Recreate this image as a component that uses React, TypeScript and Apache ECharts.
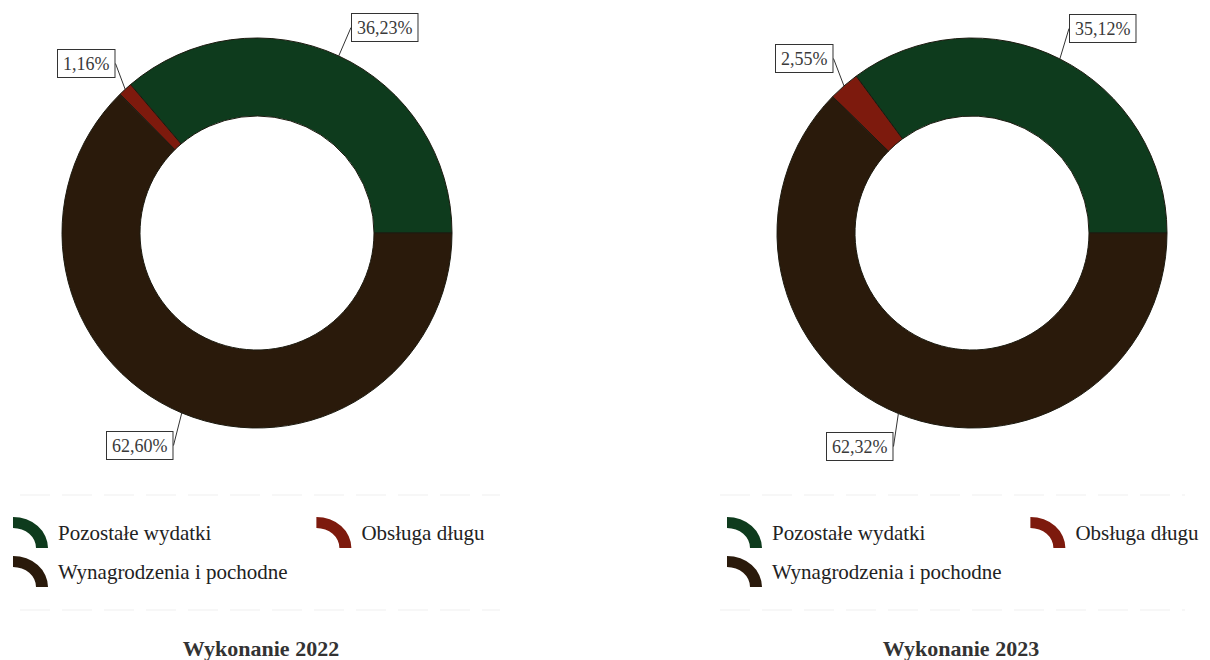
import React, { useEffect, useRef } from "react";
import * as echarts from "echarts";

const categories = ["Pozostałe wydatki", "Obsługa długu", "Wynagrodzenia i pochodne"];
const values2022 = [36.23, 1.16, 62.6];
const values2023 = [35.12, 2.55, 62.32];
const titles = ["Wykonanie 2022", "Wykonanie 2023"];

const colors = ["#0e3b1d", "#7d1a0d", "#2a1a0b"];
const labelBoxes = [
  [[352, 14], [58, 50], [107, 432]],
  [[1070, 15], [776, 45], [827, 433]],
];
const centers = [[257, 233], [972, 233]];
const legendLefts = [13, 727];
const titleXs = [261, 961];

const arcIcon = "path://M0,0 A35,31 0 0 1 35,31 L23,31 A23,20 0 0 0 0,11 Z";
const serif = "'Liberation Serif', 'Times New Roman', serif";

const fmt = (v: number) => v.toFixed(2).replace(".", ",") + "%";

export default function App() {
  const ref = useRef<HTMLDivElement>(null);
  useEffect(() => {
    if (!ref.current) return;
    const chart = echarts.init(ref.current, undefined, { renderer: "svg" });
    const allValues = [values2022, values2023];
    const series = allValues.map((vals, si) => ({
      type: "pie",
      center: centers[si],
      radius: [117, 195],
      startAngle: 0,
      clockwise: false,
      avoidLabelOverlap: false,
      emphasis: { disabled: true },
      itemStyle: { borderColor: "#1c1a10", borderWidth: 1 },
      label: {
        show: true,
        position: "outside",
        formatter: (p: any) => fmt(p.value),
        fontFamily: serif,
        fontSize: 18,
        color: "#3a3a3a",
        backgroundColor: "#fff",
        borderColor: "#333",
        borderWidth: 1,
        padding: [4, 5, 3, 5],
        lineHeight: 20,
      },
      labelLine: { show: true, length: 8, length2: 0, lineStyle: { color: "#333", width: 1 } },
      labelLayout: (params: any) => {
        const b = labelBoxes[si][params.dataIndex];
        return { x: b[0], y: b[1], align: "left", verticalAlign: "top" };
      },
      data: categories.map((name, i) => ({ name, value: vals[i], itemStyle: { color: colors[i] } })),
    }));

    const legendText = { fontFamily: serif, fontSize: 21, color: "#222", padding: [0, 0, 0, 5] };
    const legends: any[] = [];
    legendLefts.forEach((lx) => {
      legends.push({
        data: [categories[0], categories[1]],
        left: lx,
        top: 517,
        padding: 0,
        orient: "horizontal",
        itemGap: 105,
        itemWidth: 35,
        itemHeight: 31,
        icon: arcIcon,
        itemStyle: { borderWidth: 0 },
        selectedMode: false,
        textStyle: legendText,
      });
      legends.push({
        data: [categories[2]],
        left: lx,
        top: 556,
        padding: 0,
        orient: "horizontal",
        itemWidth: 35,
        itemHeight: 31,
        icon: arcIcon,
        itemStyle: { borderWidth: 0 },
        selectedMode: false,
        textStyle: legendText,
      });
    });

    const graphics: any[] = [];
    titles.forEach((t, i) => {
      graphics.push({
        type: "text",
        x: titleXs[i],
        y: 648,
        style: {
          text: t,
          align: "center",
          verticalAlign: "middle",
          fontFamily: serif,
          fontSize: 22,
          fontWeight: "bold",
          fill: "#333",
        },
      });
    });
    [[20, 500], [720, 1185]].forEach(([x1, x2]) => {
      [495, 610].forEach((y) => {
        graphics.push({
          type: "line",
          shape: { x1, y1: y, x2, y2: y },
          style: { stroke: "#efefef", lineWidth: 1, lineDash: [30, 12] },
          silent: true,
        });
      });
    });

    chart.setOption({
      animation: false,
      backgroundColor: "#fff",
      legend: legends,
      series,
      graphic: graphics,
    });
    return () => chart.dispose();
  }, []);
  return (
    <div
      ref={ref}
      style={{ position: "fixed", left: 0, top: 0, width: 1210, height: 660, background: "#fff" }}
    />
  );
}
